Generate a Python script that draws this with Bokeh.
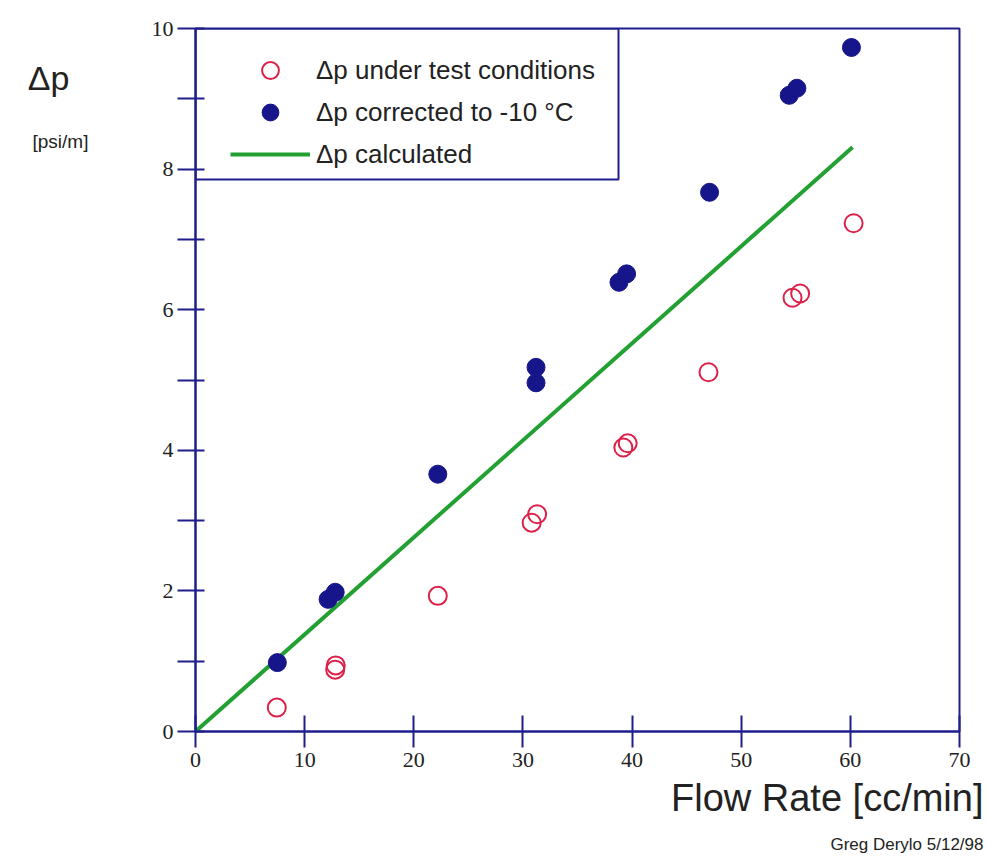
from bokeh.plotting import figure
from bokeh.layouts import row
from bokeh.models import (Range1d, FixedTicker, Label, Legend, LegendItem,
                          BoxAnnotation, Title)
from bokeh.embed import file_html
from bokeh.resources import INLINE

# ---- data ----
test_x = [7.45, 12.8, 12.85, 22.2, 30.8, 31.3, 39.2, 39.6, 47.0, 54.7, 55.4, 60.3]
test_y = [0.34, 0.88, 0.94, 1.93, 2.97, 3.09, 4.04, 4.10, 5.11, 6.17, 6.23, 7.23]
corr_x = [7.5, 12.15, 12.8, 22.2, 31.2, 31.2, 38.8, 39.5, 47.1, 54.4, 55.1, 60.1]
corr_y = [0.98, 1.88, 1.98, 3.66, 4.96, 5.18, 6.39, 6.51, 7.67, 9.05, 9.15, 9.73]
calc_x = [0, 60.2]
calc_y = [0, 8.31]

x_ticks = [0, 10, 20, 30, 40, 50, 60, 70]
y_ticks = [0, 2, 4, 6, 8, 10]
y_minor = [1, 3, 5, 7, 9]

NAVY = "#1e1e8c"
RED = "#dc2048"
BLUE = "#16168a"
GREEN = "#22a032"
TXT = "#222222"

# ---- left strip carrying the y-axis caption (frame aligned with main frame) ----
left = figure(width=120, height=861, min_border=0,
              x_axis_location=None, y_axis_location=None,
              output_backend="svg", toolbar_location=None)
left.outline_line_color = None
left.grid.visible = False
left.add_layout(Label(x=48, y=653, x_units="screen", y_units="screen",
                      text="\u0394p", text_font="Liberation Sans",
                      text_font_size="34px", text_align="center",
                      text_baseline="alphabetic", text_color=TXT))
left.add_layout(Label(x=60, y=589, x_units="screen", y_units="screen",
                      text="[psi/m]", text_font="Liberation Sans",
                      text_font_size="19px", text_align="center",
                      text_baseline="middle", text_color=TXT))

# ---- main chart ----
p = figure(frame_width=764, frame_height=703,
           min_border_left=75, min_border_top=28,
           min_border_right=28, min_border_bottom=130,
           x_range=Range1d(0, 70), y_range=Range1d(0, 10),
           output_backend="svg", toolbar_location=None)
p.background_fill_color = "white"
p.border_fill_color = "white"
p.grid.visible = False
p.outline_line_color = NAVY
p.outline_line_width = 2

p.xaxis.ticker = FixedTicker(ticks=x_ticks)
p.yaxis.ticker = FixedTicker(ticks=y_ticks, minor_ticks=y_minor)
for ax in (p.xaxis[0], p.yaxis[0]):
    ax.axis_line_color = NAVY
    ax.axis_line_width = 2
    ax.major_tick_line_color = NAVY
    ax.major_tick_line_width = 2
    ax.minor_tick_line_color = NAVY
    ax.minor_tick_line_width = 2
    ax.major_label_text_font = "Liberation Serif"
    ax.major_label_text_font_size = "22px"
    ax.major_label_text_color = TXT
p.xaxis.major_tick_in = 16
p.xaxis.major_tick_out = 16
p.xaxis.minor_tick_in = 0
p.xaxis.minor_tick_out = 0
p.xaxis.major_label_standoff = 5
p.yaxis.major_tick_in = 9
p.yaxis.major_tick_out = 18
p.yaxis.minor_tick_in = 9
p.yaxis.minor_tick_out = 18
p.yaxis.major_label_standoff = 4

r_calc = p.line(calc_x, calc_y, line_color=GREEN, line_width=4)
r_test = p.scatter(test_x, test_y, marker="circle", size=18,
                   fill_alpha=0, line_color=RED, line_width=2)
r_corr = p.scatter(corr_x, corr_y, marker="circle", size=18,
                   fill_color=BLUE, line_color=BLUE, line_width=1)

# legend frame
p.add_layout(BoxAnnotation(left=0, right=423, top=703, bottom=552,
                           left_units="screen", right_units="screen",
                           top_units="screen", bottom_units="screen",
                           fill_alpha=0, line_color=NAVY, line_alpha=1,
                           line_width=2))

legend = Legend(items=[
    LegendItem(label="\u0394p under test conditions", renderers=[r_test]),
    LegendItem(label="\u0394p corrected to -10 \u00b0C", renderers=[r_corr]),
    LegendItem(label="\u0394p calculated", renderers=[r_calc]),
], location=(35, 556), margin=0, padding=0, spacing=0,
    glyph_width=80, glyph_height=42, label_height=42, label_standoff=6,
    label_text_font="Liberation Sans", label_text_font_size="26px",
    label_text_color=TXT,
    background_fill_alpha=0, border_line_alpha=0)
p.add_layout(legend, "center")

# captions below the x axis
p.add_layout(Title(text="Flow Rate [cc/min]", align="right", offset=-24,
                   standoff=11, text_font="Liberation Sans",
                   text_font_size="38px", text_font_style="normal",
                   text_color=TXT), "below")
p.add_layout(Title(text="Greg Derylo 5/12/98", align="right", offset=-24,
                   standoff=17, text_font="Liberation Sans",
                   text_font_size="17px", text_font_style="normal",
                   text_color=TXT), "below")

layout = row(left, p, spacing=0)
open("out.html", "w").write(file_html(layout, INLINE))
